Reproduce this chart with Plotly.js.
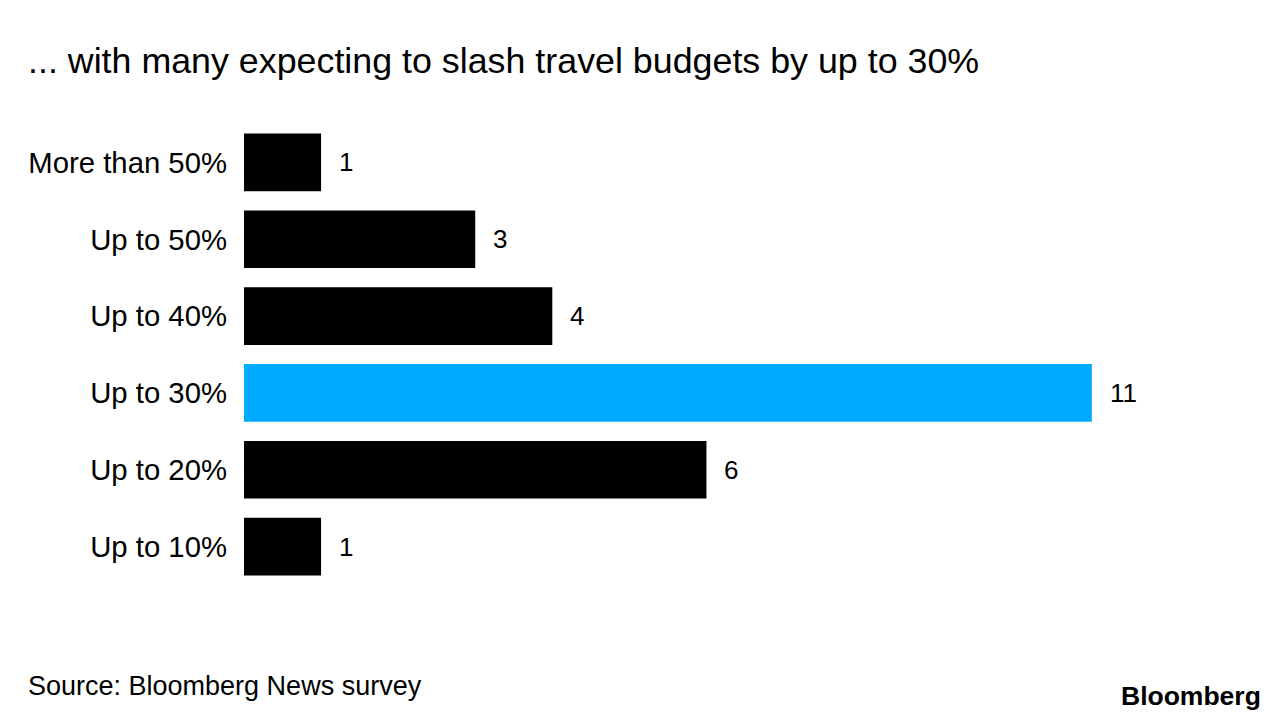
<!DOCTYPE html>
<html>
<head>
<meta charset="utf-8">
<script src="https://cdn.plot.ly/plotly-3.0.1.min.js"></script>
<style>html,body{margin:0;padding:0;background:#fff;}#chart{width:1288px;height:728px;}</style>
</head>
<body>
<div id="chart"></div>
<script>
const categories = ["More than 50%", "Up to 50%", "Up to 40%", "Up to 30%", "Up to 20%", "Up to 10%"];
const values = [1, 3, 4, 11, 6, 1];
const highlight = "Up to 30%";

const FONT = '"Liberation Sans", Arial, Helvetica, sans-serif';
const colors = categories.map(c => c === highlight ? '#00aaff' : '#000000');

const trace = {
  type: 'bar',
  orientation: 'h',
  x: values,
  y: categories,
  marker: {color: colors, line: {width: 0}},
  width: 0.75,
  hoverinfo: 'none'
};

const annotations = categories.map((c, i) => ({
  x: values[i], y: c, xref: 'x', yref: 'y',
  text: String(values[i]), showarrow: false,
  xanchor: 'left', yanchor: 'middle', xshift: 16,
  font: {family: FONT, size: 26, color: '#000'}
}));
annotations.push({
  xref: 'paper', yref: 'paper', x: -244/1002, y: -0.22, xanchor: 'left', yanchor: 'middle',
  text: 'Source: Bloomberg News survey', showarrow: false,
  xshift: 26,
  font: {family: FONT, size: 27, color: '#000'}
});
annotations.push({
  xref: 'paper', yref: 'paper', x: 1, y: -0.24, xanchor: 'right', yanchor: 'middle',
  text: '<b>Bloomberg</b>', showarrow: false, xshift: 17,
  font: {family: FONT, size: 26.5, color: '#000'}
});

const layout = {
  width: 1288, height: 728,
  paper_bgcolor: '#fff', plot_bgcolor: '#fff',
  margin: {l: 244, r: 42, t: 123.5, b: 142.5},
  showlegend: false,
  title: {
    text: '... with many expecting to slash travel budgets by up to 30%',
    x: 28/1288, xanchor: 'left', y: 1 - 60/728, yanchor: 'middle',
    font: {family: FONT, size: 35.8, color: '#000'}
  },
  xaxis: {range: [0, 13], visible: false, fixedrange: true},
  yaxis: {
    type: 'category', categoryorder: 'array', categoryarray: categories,
    autorange: 'reversed', showgrid: false, zeroline: false, showline: false,
    ticks: '', ticklabelstandoff: 16,
    tickfont: {family: FONT, size: 29.3, color: '#000'}
  },
  annotations: annotations,
  bargap: 0.25
};

Plotly.newPlot('chart', [trace], layout, {displayModeBar: false, staticPlot: true});
</script>
</body>
</html>
